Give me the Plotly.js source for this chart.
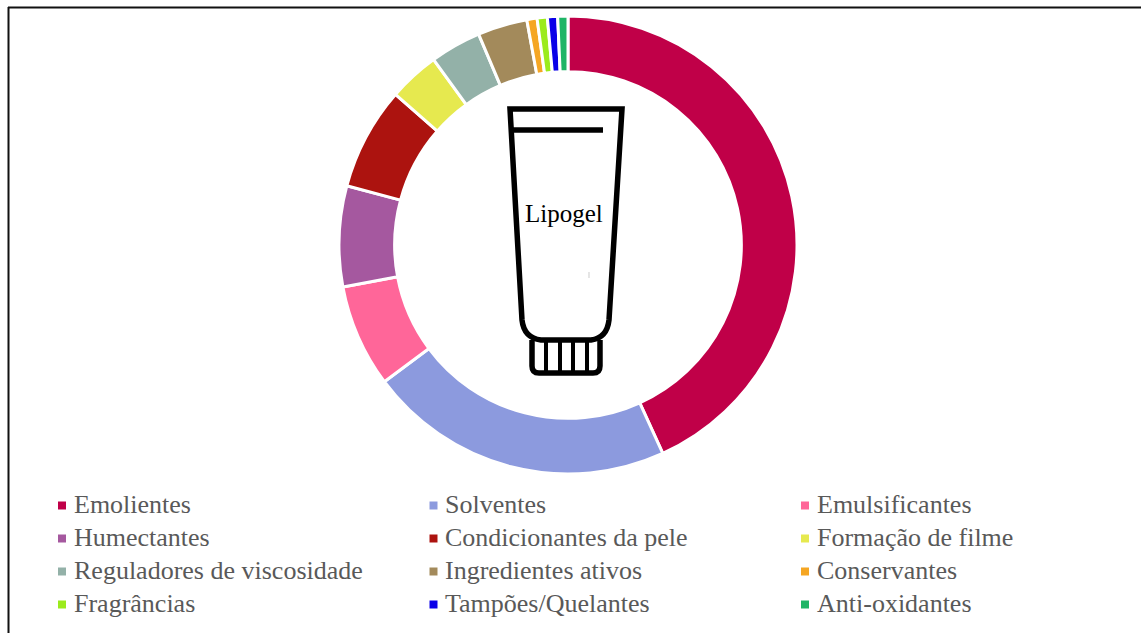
<!DOCTYPE html>
<html><head><meta charset="utf-8">
<script src="https://cdn.plot.ly/plotly-3.0.1.min.js"></script>
<style>html,body{margin:0;padding:0;background:#fff}</style></head>
<body><div id="chart" style="width:1141px;height:633px"></div>
<script>
const categories = ["Emolientes","Solventes","Emulsificantes","Humectantes","Condicionantes da pele","Formação de filme","Reguladores de viscosidade","Ingredientes ativos","Conservantes","Fragrâncias","Tampões/Quelantes","Anti-oxidantes"];
const values = [43.2,21.6,7.25,7.1,7.25,3.6,3.6,3.5,0.72,0.72,0.72,0.72];
const colors = ["#C00048","#8C9ADE","#FF6699","#A5589F","#AC130F","#E6E94F","#93B1A8","#A38A5B","#F5A623","#9BEB1C","#0A00E8","#1FB566"];
const W=1141,H=633;
const px=x=>x/W, py=y=>1-y/H;
function path(d){
  const t=d.split(' ');let out=[],isX=true;
  for(const k of t){ if(/^[A-Z]$/.test(k)){out.push(k);isX=true;} else {out.push(isX?px(+k).toFixed(5):py(+k).toFixed(5));isX=!isX;} }
  return out.join(' ');
}
const stroke=(d,w,c)=>({type:'path',xref:'paper',yref:'paper',path:path(d),line:{color:c||'#000',width:w},fillcolor:'rgba(0,0,0,0)',layer:'above'});
const shapes=[
 {type:'line',xref:'paper',yref:'paper',x0:px(8.5),x1:px(8.5),y0:py(7),y1:py(633),line:{color:'#111',width:2}},
 {type:'line',xref:'paper',yref:'paper',x0:px(8),x1:1,y0:py(7.5),y1:py(7.5),line:{color:'#111',width:2}},
 stroke("M 510 109 L 622 109 L 609 320 Q 607 338 591 340 L 541 340 Q 524 338 522 320 Z",5.5),
 stroke("M 512 130 L 603 130",5.5),
 stroke("M 532 340 L 532 366 Q 532 373 539 373 L 593 373 Q 600 373 600 366 L 600 340",5.5),
 stroke("M 546 340 L 546 372",4),
 stroke("M 560 340 L 560 372",4),
 stroke("M 573 340 L 573 372",4),
 stroke("M 587 340 L 587 372",4),
 stroke("M 589 272 L 589 278",1,'#cccccc')
];
const annotations=[{text:"Lipogel",xref:'paper',yref:'paper',x:px(564),y:py(213),xanchor:'center',yanchor:'middle',showarrow:false,font:{family:'"Liberation Serif",serif',size:25,color:'#000'}}];
categories.forEach((c,i)=>{
  const col=i%3,row=Math.floor(i/3);
  const tx=74+col*371.5, ty=504.5+row*33;
  annotations.push({text:c,xref:'paper',yref:'paper',x:px(tx-0.5),y:py(ty),xanchor:'left',yanchor:'middle',showarrow:false,borderpad:0,borderwidth:0,font:{family:'"Liberation Serif",serif',size:26,color:'#595959'}});
  shapes.push({type:'rect',xref:'paper',yref:'paper',x0:px(tx-16),x1:px(tx-8),y0:py(ty-3),y1:py(ty+5),fillcolor:colors[i],line:{width:0}});
});
Plotly.newPlot('chart',[{type:'pie',labels:categories,values:values,hole:0.757,sort:false,direction:'clockwise',rotation:0,
  marker:{colors:colors,line:{color:'#fff',width:3}},textinfo:'none',hoverinfo:'label+percent',
  domain:{x:[px(339),px(797)],y:[py(474),py(16)]}}],
 {width:W,height:H,margin:{l:0,r:0,t:0,b:0},paper_bgcolor:'#fff',showlegend:false,shapes,annotations},
 {displayModeBar:false});
</script></body></html>
